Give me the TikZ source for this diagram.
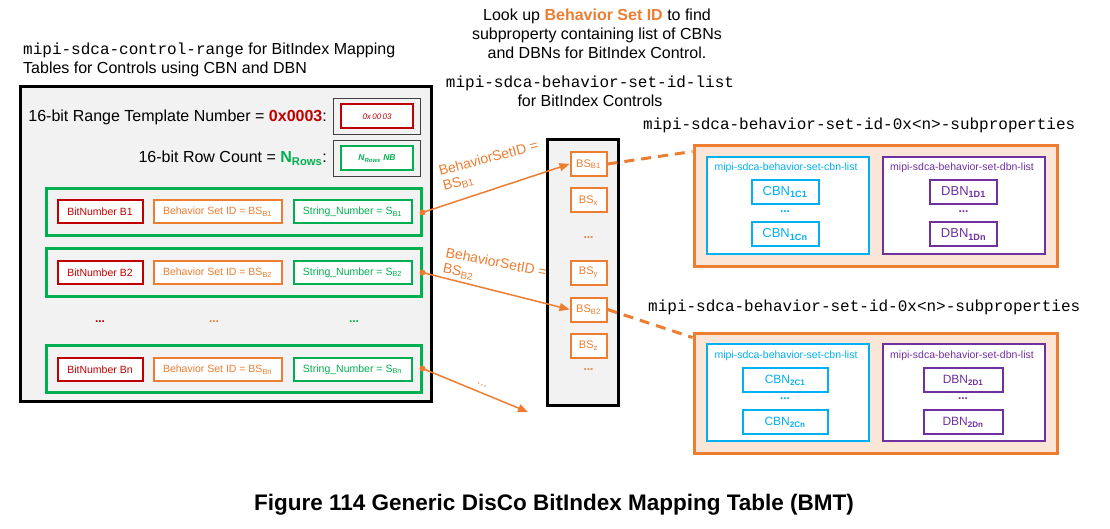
\documentclass[tikz,border=0pt]{standalone}
\usepackage{fontspec}
\setmainfont{Liberation Sans}
\setmonofont{Liberation Mono}
\usetikzlibrary{arrows.meta,calc,shadows}
\definecolor{cOr}{HTML}{ED7D31}
\definecolor{cGr}{HTML}{00B050}
\definecolor{cRd}{HTML}{C00000}
\definecolor{cCy}{HTML}{00B0F0}
\definecolor{cPu}{HTML}{7030A0}
\definecolor{cPeach}{HTML}{FBE5D6}
\definecolor{cGy}{HTML}{F2F2F2}
\newcommand{\fsz}[2]{\fontsize{#1}{#2}\selectfont}
\tikzset{
  bigpanel/.style={draw=black, line width=3pt, fill=cGy, inner sep=0pt,
    drop shadow={shadow xshift=1.5pt, shadow yshift=-1.5pt, fill=black!60, opacity=0.6}},
  rowbox/.style={draw=cGr, line width=3pt, minimum width=375pt, minimum height=47pt, inner sep=0pt},
  cell/.style={draw=#1, line width=2pt, fill=white, text=#1, minimum height=23pt, inner sep=0pt, font=\fsz{10.5}{12}},
  smallouter/.style={draw=black!75, line width=1.5pt, fill=cGy, minimum width=87pt, minimum height=36pt, inner sep=0pt},
  bsbox/.style={draw=cOr, line width=2pt, fill=white, text=cOr, minimum width=36pt, minimum height=24pt, inner sep=0pt, font=\fsz{11}{12}},
  subbox/.style={draw=cOr, line width=3pt, fill=cPeach, minimum width=363pt, minimum height=120pt, inner sep=0pt},
  listbox/.style={draw=#1, line width=2pt, fill=white, minimum width=162pt, minimum height=97pt, inner sep=0pt},
  itembox/.style={draw=#1, line width=2pt, fill=white, text=#1, minimum height=24pt, inner sep=0pt, font=\fsz{13}{14}},
  listlabel/.style={text=#1, font=\fsz{10.5}{12}, inner sep=0pt},
  dotsl/.style={text=#1, font=\fsz{12}{12}\bfseries, inner sep=0pt},
  txt/.style={font=\fsz{16}{19}, inner sep=0pt},
  arrlabel/.style={text=cOr, font=\fsz{14}{15.5}, inner sep=0pt, anchor=north west, align=left},
  conn/.style={draw=cOr, line width=1.5pt, -{Triangle[length=10pt,width=8pt]}},
  dashconn/.style={draw=cOr, line width=3pt, dash pattern=on 10pt off 7pt},
}
\begin{document}
\begin{tikzpicture}[x=1pt,y=-1pt]
\useasboundingbox (0,0) rectangle (1110,529);

% ---------- left panel ----------
\node[txt, anchor=west, align=left] (title) at (23,60)
  {\texttt{mipi-sdca-control-range} for BitIndex Mapping\\Tables for Controls using CBN and DBN};
\node[bigpanel, minimum width=411pt, minimum height=315pt] (panel) at (226,244) {};

\node[txt, anchor=east] (rtlabel) at (327,117)
  {16-bit Range Template Number = {\bfseries\color{cRd}0x0003}:};
\node[smallouter] (rto) at (377,116.5) {};
\node[cell=cRd, minimum width=72pt, minimum height=24pt, font=\fsz{8}{9}\itshape] (rti) at (rto) {0x\,00\,03};

\node[txt, anchor=east] (rclabel) at (327,158)
  {16-bit Row Count = {\bfseries\color{cGr}N\textsubscript{Rows}}:};
\node[smallouter] (rco) at (377,158.5) {};
\node[cell=cGr, minimum width=72pt, minimum height=24pt, font=\fsz{8.5}{9}\itshape\bfseries] (rci) at (rco) {N\textsubscript{Rows} NB};

% rows
\node[rowbox] (row1) at (233.5,212.5) {};
\node[cell=cRd, minimum width=85pt] (bn1) at (100,212) {BitNumber B1};
\node[cell=cOr, minimum width=128pt] (bs1) at (217.5,212) {Behavior Set ID = BS\textsubscript{B1}};
\node[cell=cGr, minimum width=118pt] (sn1) at (352.5,212) {String\_Number = S\textsubscript{B1}};

\node[rowbox] (row2) at (233.5,272.5) {};
\node[cell=cRd, minimum width=85pt] (bn2) at (100,272.5) {BitNumber B2};
\node[cell=cOr, minimum width=128pt] (bs2) at (217.5,272.5) {Behavior Set ID = BS\textsubscript{B2}};
\node[cell=cGr, minimum width=118pt] (sn2) at (352.5,272.5) {String\_Number = S\textsubscript{B2}};

\node[dotsl=cRd] (d1) at (100,322) {...};
\node[dotsl=cOr] (d2) at (214,322) {...};
\node[dotsl=cGr] (d3) at (354,322) {...};

\node[rowbox] (rown) at (233.5,368.5) {};
\node[cell=cRd, minimum width=85pt] (bnn) at (100,369.5) {BitNumber Bn};
\node[cell=cOr, minimum width=128pt] (bsn) at (217.5,369.5) {Behavior Set ID = BS\textsubscript{Bn}};
\node[cell=cGr, minimum width=118pt] (snn) at (352.5,369.5) {String\_Number = S\textsubscript{Bn}};

% ---------- top centre text ----------
\node[txt, align=center] (lookup) at (597,34)
  {Look up {\bfseries\color{cOr}Behavior Set ID} to find\\subproperty containing list of CBNs\\and DBNs for BitIndex Control.};
\node[txt, align=center] (listname) at (590,91)
  {\texttt{mipi-sdca-behavior-set-id-list}\\for BitIndex Controls};

% ---------- middle column ----------
\node[bigpanel, minimum width=71pt, minimum height=265pt] (col) at (582.5,272.5) {};
\node[bsbox] (bsb1) at (588.5,164) {BS\textsubscript{B1}};
\node[bsbox] (bsx) at (588.5,200.5) {BS\textsubscript{x}};
\node[dotsl=cOr] (cd1) at (588.5,238) {...};
\node[bsbox] (bsy) at (588.5,272.5) {BS\textsubscript{y}};
\node[bsbox] (bsb2) at (588.5,309.5) {BS\textsubscript{B2}};
\node[bsbox] (bsz) at (588.5,345.5) {BS\textsubscript{z}};
\node[dotsl=cOr] (cd2) at (588.5,370) {...};

% ---------- right subproperty boxes ----------
\node[txt, anchor=west] (sp1label) at (643,125) {\texttt{mipi-sdca-behavior-set-id-0x<n>-subproperties}};
\node[subbox] (box1) at (875.5,206) {};
\node[listbox=cCy] (cbn1) at (788,205.5) {};
\node[listlabel=cCy] (cbn1l) at (786,168) {mipi-sdca-behavior-set-cbn-list};
\node[itembox=cCy, minimum width=67pt] (c1a) at (785,192) {CBN\textsubscript{\bfseries 1C1}};
\node[dotsl=cCy] (c1d) at (785,212) {...};
\node[itembox=cCy, minimum width=67pt] (c1b) at (785,234.5) {CBN\textsubscript{\bfseries 1Cn}};
\node[listbox=cPu] (dbn1) at (964,205.5) {};
\node[listlabel=cPu] (dbn1l) at (962,168) {mipi-sdca-behavior-set-dbn-list};
\node[itembox=cPu, minimum width=67pt] (d1a) at (963.5,192) {DBN\textsubscript{\bfseries 1D1}};
\node[dotsl=cPu] (d1d) at (963.5,212) {...};
\node[itembox=cPu, minimum width=67pt] (d1b) at (963.5,234.5) {DBN\textsubscript{\bfseries 1Dn}};

\node[txt, anchor=west] (sp2label) at (648,307) {\texttt{mipi-sdca-behavior-set-id-0x<n>-subproperties}};
\node[subbox] (box2) at (875.5,393) {};
\node[listbox=cCy] (cbn2) at (788,392.5) {};
\node[listlabel=cCy] (cbn2l) at (786,356) {mipi-sdca-behavior-set-cbn-list};
\node[itembox=cCy, minimum width=85pt, font=\fsz{12}{13}] (c2a) at (785,380) {CBN\textsubscript{\bfseries 2C1}};
\node[dotsl=cCy] (c2d) at (785,399) {...};
\node[itembox=cCy, minimum width=85pt, font=\fsz{12}{13}] (c2b) at (785,422) {CBN\textsubscript{\bfseries 2Cn}};
\node[listbox=cPu] (dbn2) at (964,392.5) {};
\node[listlabel=cPu] (dbn2l) at (962,356) {mipi-sdca-behavior-set-dbn-list};
\node[itembox=cPu, minimum width=79pt, font=\fsz{12}{13}] (d2a) at (963,380) {DBN\textsubscript{\bfseries 2D1}};
\node[dotsl=cPu] (d2d) at (963,399) {...};
\node[itembox=cPu, minimum width=79pt, font=\fsz{12}{13}] (d2b) at (963,422) {DBN\textsubscript{\bfseries 2Dn}};

% ---------- connectors ----------
\coordinate (nend) at (528,412);
\draw[conn] (row1.east) -- (bsb1.west);
\draw[conn] (row2.east) -- (bsb2.west);
\draw[conn] (rown.east) -- (nend);
\fill[cOr] (row1.east) circle (3pt);
\fill[cOr] (row2.east) circle (3pt);
\fill[cOr] (rown.east) circle (3pt);

\draw[dashconn] (bsb1.east) -- ([yshift=-7pt]box1.north west);
\draw[dashconn] (bsb2.east) -- ([yshift=-6pt]box2.north west);

\node[arrlabel, rotate=15] (l1) at (437.4,166) {BehaviorSetID =\\BS\textsubscript{B1}};
\node[arrlabel, rotate=-11] (l2) at (447,247) {BehaviorSetID =\\BS\textsubscript{B2}};
\node[dotsl=cOr, font=\fsz{12}{12}, rotate=-20] (l3) at (482,385) {...};

% ---------- caption ----------
\node[font=\fsz{22.5}{26}\bfseries, inner sep=0pt] (cap) at (554,505) {Figure 114 Generic DisCo BitIndex Mapping Table (BMT)};
\end{tikzpicture}
\end{document}
